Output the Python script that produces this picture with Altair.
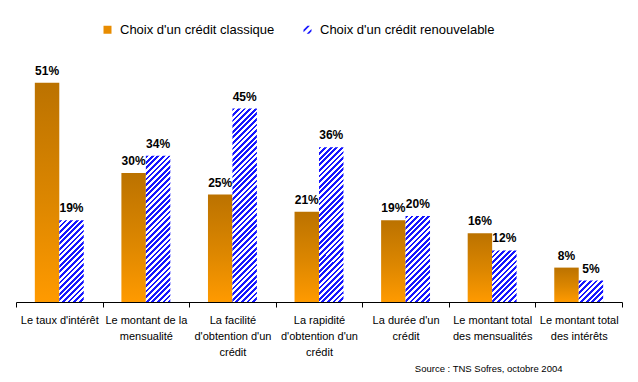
import altair as alt
import pandas as pd

# ---- data ----
categories = [
    "Le taux d'intérêt",
    "Le montant de la\nmensualité",
    "La facilité\nd'obtention d'un\ncrédit",
    "La rapidité\nd'obtention d'un\ncrédit",
    "La durée d'un\ncrédit",
    "Le montant total\ndes mensualités",
    "Le montant total\ndes intérêts",
]
classique = [51, 30, 25, 21, 19, 16, 8]
renouvelable = [19, 34, 45, 36, 20, 12, 5]
series = ["Choix d'un crédit classique", "Choix d'un crédit renouvelable"]
source_text = "Source : TNS Sofres, octobre 2004"

# ---- layout / style ----
W, H = 606, 258
YMAX = 60
PX = H / YMAX
PAD_OUT = 0.77
BAR_W = (W / len(categories)) / (2 + 2 * PAD_OUT)
BLUE = "#1616ff"
PERIOD = 5.6
FRAC = 0.5
FONT = "Liberation Sans"

rows = []
for i, c in enumerate(categories):
    rows.append({"idx": i, "cat": c, "serie": series[0], "value": classique[i], "label": f"{classique[i]}%"})
    rows.append({"idx": i, "cat": c, "serie": series[1], "value": renouvelable[i], "label": f"{renouvelable[i]}%"})
df = pd.DataFrame(rows)

x_enc = alt.X(
    "cat:N",
    sort=categories,
    scale=alt.Scale(paddingInner=0, paddingOuter=0),
    axis=alt.Axis(
        title=None, labelAngle=0, tickBand="extent", domainColor="black", tickColor="black",
        tickSize=5, labelFont=FONT, labelFontSize=11, labelColor="black", labelLineHeight=16,
        labelPadding=7, labelExpr="split(datum.label, '\\n')", grid=False,
    ),
)
xo_enc = alt.XOffset("serie:N", scale=alt.Scale(domain=series, paddingOuter=PAD_OUT, paddingInner=0))
y_enc = alt.Y("value:Q", scale=alt.Scale(domain=[0, YMAX]), axis=None)

orange_grad = alt.LinearGradient(
    gradient="linear",
    stops=[alt.GradientStop(offset=0, color="#bb7200"), alt.GradientStop(offset=0.55, color="#dd8700"),
           alt.GradientStop(offset=1, color="#ff9a00")],
    x1=0, y1=0, x2=0, y2=1,
)


def hatch(value):
    h = value * PX
    r = h / BAR_W
    dx = (1 + r) / (1 + r * r)
    dy = r * dx
    n = (BAR_W + h) / PERIOD
    stops = []
    k = 0
    while k < n:
        a = k / n
        b = min((k + FRAC) / n, 1)
        c = min((k + 1) / n, 1)
        stops += [
            alt.GradientStop(offset=a, color=BLUE), alt.GradientStop(offset=b, color=BLUE),
            alt.GradientStop(offset=b, color="white"), alt.GradientStop(offset=c, color="white"),
        ]
        k += 1
    return alt.LinearGradient(gradient="linear", stops=stops, x1=0, y1=0, x2=dx, y2=dy)


base = alt.Chart(df)

orange = base.transform_filter(alt.datum.serie == series[0]).mark_bar(fill=orange_grad).encode(
    x=x_enc, xOffset=xo_enc, y=y_enc
)

blue_layers = []
for i, v in enumerate(renouvelable):
    blue_layers.append(
        base.transform_filter((alt.datum.idx == i) & (alt.datum.serie == series[1]))
        .mark_bar(fill=hatch(v))
        .encode(x=x_enc, xOffset=xo_enc, y=y_enc)
    )

labels = base.mark_text(
    baseline="alphabetic", dy=-8, font=FONT, fontSize=12, fontWeight="bold", color="black"
).encode(x=x_enc, xOffset=xo_enc, y=y_enc, text="label:N")

hatch_path = "M-1,0L0,-1L0.6,-1L-1,0.6Z M-0.2,1L1,-0.2L1,0.4L0.4,1Z"
leg = alt.Legend(
    title=None, orient="none", legendX=85, legendY=-21, direction="horizontal",
    labelFont=FONT, labelFontSize=13, labelColor="black", labelLimit=400, symbolSize=64, symbolOpacity=1,
    symbolStrokeWidth=0, columnPadding=26, labelOffset=6, padding=0,
)
legend_layer = base.mark_point(filled=True, opacity=0).encode(
    color=alt.Color("serie:N", scale=alt.Scale(domain=series, range=["#e88c00", BLUE]), legend=leg),
    shape=alt.Shape("serie:N", scale=alt.Scale(domain=series, range=["square", hatch_path]), legend=leg),
)

chart = alt.layer(orange, *blue_layers, labels, legend_layer).properties(
    width=W,
    height=H,
    autosize=alt.AutoSizeParams(type="none"),
    padding={"left": 8, "top": 36, "right": 8, "bottom": 76},
    title=alt.TitleParams(
        source_text, orient="bottom", anchor="end", font=FONT, fontSize=9.5, fontWeight="normal",
        color="black", dx=-60, offset=7,
    ),
).configure_view(stroke=None)

chart.save("out.html", embed_options={"renderer": "svg", "actions": False})
